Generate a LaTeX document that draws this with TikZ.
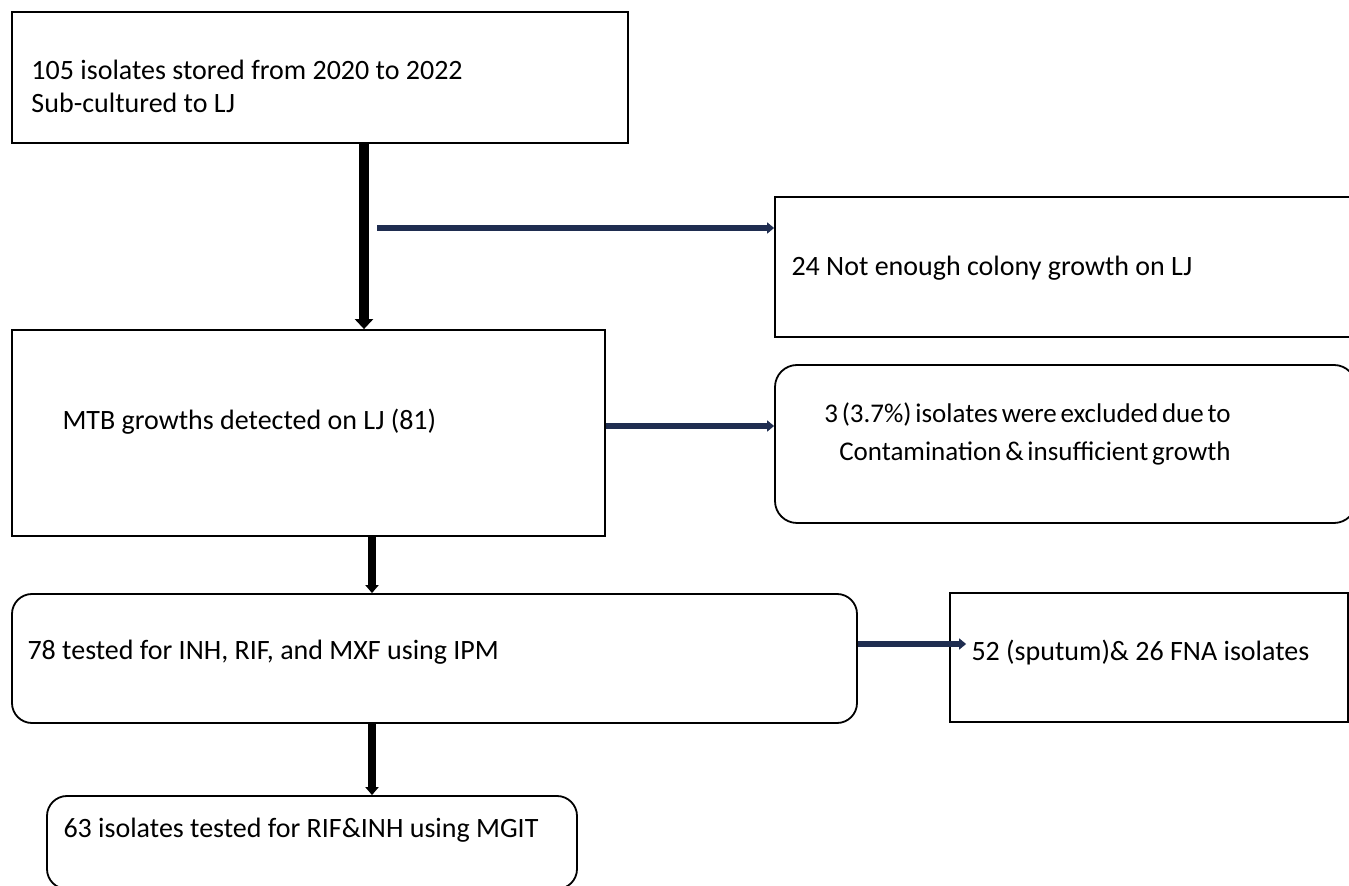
\documentclass[tikz,border=0pt]{standalone}
\usepackage{fontspec}
\setmainfont{Carlito}
\usepackage{xcolor}
\usepackage{tikz}
\usetikzlibrary{arrows.meta,positioning}
\definecolor{navyline}{HTML}{1F2D50}
\newcommand{\tightfont}{\fontsize{13.5}{19}\selectfont\spaceskip=0.14em plus 0.05em\relax}

\begin{document}
\begin{tikzpicture}[x=0.5pt, y=-0.5pt, font=\fontsize{14}{16.5}\selectfont,
  box/.style={draw, line width=0.9pt, inner sep=0pt},
  rbox/.style={box, rounded corners=10pt},
  txt/.style={inner sep=0pt, anchor=west, align=left, font=\fontsize{14}{16.5}\selectfont},
  downarr/.style={-{Triangle[length=5pt, width=9pt]}, line width=5pt},
  smalldown/.style={-{Triangle[length=4pt, width=6.5pt]}, line width=3.8pt},
  sidearr/.style={-{Triangle[length=3.5pt, width=5.5pt]}, line width=3.2pt, draw=navyline}]
  \useasboundingbox (0,0) rectangle (1349,886);

  \node[box, minimum width=308pt, minimum height=65.5pt,
    label={[txt, xshift=10pt, yshift=-4.5pt]west:{105 isolates stored from 2020 to 2022\\Sub-cultured to LJ}}]
    (src) at (320,77.5) {};
  \node[box, minimum width=296.5pt, minimum height=103pt,
    label={[txt, xshift=25.5pt, yshift=5.5pt]west:{MTB growths detected on LJ (81)}}]
    (lj) at (308.5,433) {};
  \node[box, minimum width=290.5pt, minimum height=70pt,
    label={[txt, xshift=8.5pt, yshift=-0.5pt]west:{24 Not enough colony growth on LJ}}]
    (nogrow) at (1065.5,267) {};
  \node[rbox, rounded corners=11pt, minimum width=290.5pt, minimum height=79pt,
    label={[txt, anchor=center, align=right, font=\tightfont,
      xshift=-19pt, yshift=5pt]center:{3 (3.7\%) isolates were excluded due to\\Contamination \& insufficient growth}}]
    (excl) at (1065.5,444) {};
  \node[rbox, minimum width=422.5pt, minimum height=64.5pt,
    label={[txt, xshift=8pt, yshift=3.25pt]west:{78 tested for INH, RIF, and MXF using IPM}}]
    (ipm) at (434.5,658.5) {};
  \node[box, minimum width=199pt, minimum height=64.5pt,
    label={[txt, xshift=11pt, yshift=2.25pt]west:{52 (sputum)\& 26 FNA isolates}}]
    (site) at (1149,657.5) {};
  \node[rbox, minimum width=265pt, minimum height=46.5pt,
    label={[txt, xshift=8.5pt, yshift=6.25pt]west:{63 isolates tested for RIF\&INH using MGIT}}]
    (mgit) at (312,842.5) {};

  \coordinate (split) at (377,228);

  \draw[downarr] ([xshift=22pt]src.south) -- ([xshift=22pt]src.south |- lj.north);
  \draw[sidearr] (split) -- (split -| nogrow.west);
  \draw[sidearr] ([yshift=3.5pt]lj.east) -- ([yshift=3.5pt]lj.east -| excl.west);
  \draw[smalldown] ([xshift=31.75pt]lj.south) -- ([xshift=31.75pt]lj.south |- ipm.north);
  \draw[sidearr] ([yshift=7.25pt]ipm.east) -- ([yshift=7.25pt]ipm.east -| site.west) -- ++(8.5pt,0);
  \draw[smalldown] ([xshift=31.75pt]lj.south |- ipm.south) -- ([xshift=31.75pt]lj.south |- mgit.north);
\end{tikzpicture}
\end{document}
